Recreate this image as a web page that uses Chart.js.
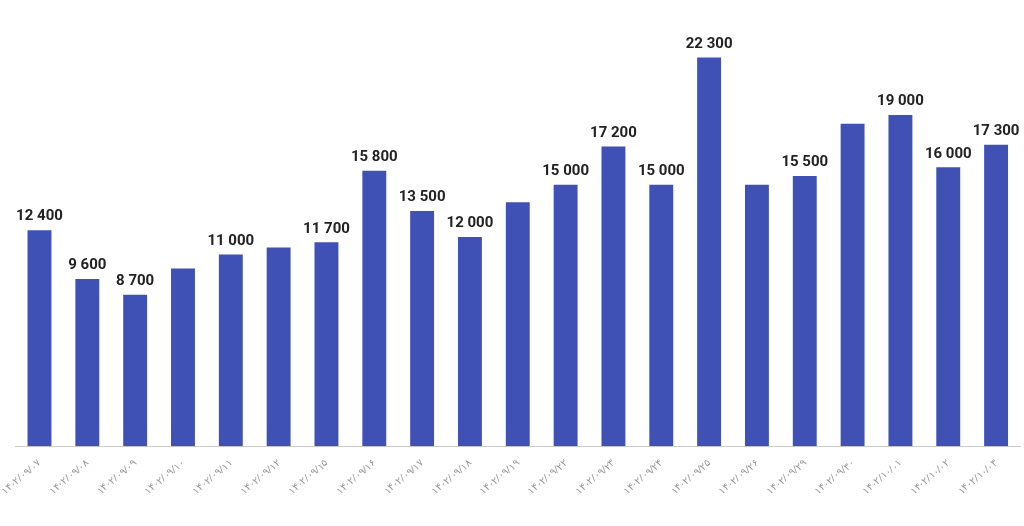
<!DOCTYPE html>
<html><head><meta charset="utf-8">
<script src="https://cdn.jsdelivr.net/npm/chart.js@4"></script>
<style>html,body{margin:0;background:#fff}#wrap{width:1024px;height:526px}</style>
</head><body><div id="wrap"><canvas id="c"></canvas></div>
<script>
const labels = ["۱۴۰۲/۰۹/۰۷","۱۴۰۲/۰۹/۰۸","۱۴۰۲/۰۹/۰۹","۱۴۰۲/۰۹/۱۰","۱۴۰۲/۰۹/۱۱","۱۴۰۲/۰۹/۱۲","۱۴۰۲/۰۹/۱۵","۱۴۰۲/۰۹/۱۶","۱۴۰۲/۰۹/۱۷","۱۴۰۲/۰۹/۱۸","۱۴۰۲/۰۹/۱۹","۱۴۰۲/۰۹/۲۲","۱۴۰۲/۰۹/۲۳","۱۴۰۲/۰۹/۲۴","۱۴۰۲/۰۹/۲۵","۱۴۰۲/۰۹/۲۶","۱۴۰۲/۰۹/۲۹","۱۴۰۲/۰۹/۳۰","۱۴۰۲/۱۰/۰۱","۱۴۰۲/۱۰/۰۲","۱۴۰۲/۱۰/۰۳"];
const values = [12400,9600,8700,10200,11000,11400,11700,15800,13500,12000,14000,15000,17200,15000,22300,15000,15500,18500,19000,16000,17300];
const shownLabels = [true,true,true,false,true,false,true,true,true,true,false,true,true,true,true,false,true,false,true,true,true];

const fmt = v => String(v).replace(/\B(?=(\d{3})+(?!\d))/g, " ");
const valueLabels = {
  id: 'valueLabels',
  afterDatasetsDraw(chart) {
    const ctx = chart.ctx;
    ctx.save();
    ctx.font = 'bold 15px Roboto';
    ctx.fillStyle = '#222';
    ctx.textAlign = 'center';
    ctx.textBaseline = 'bottom';
    chart.getDatasetMeta(0).data.forEach((bar, i) => {
      if (shownLabels[i]) ctx.fillText(fmt(values[i]), bar.x, bar.y - 6);
    });
    ctx.restore();
  }
};

new Chart(document.getElementById('c'), {
  type: 'bar',
  data: { labels: labels, datasets: [{ data: values, backgroundColor: '#3f51b5', barPercentage: 0.5, categoryPercentage: 1 }] },
  options: {
    responsive: true, maintainAspectRatio: false, animation: false,
    layout: { padding: { left: 6, right: 4, top: 0, bottom: 26 } },
    plugins: { legend: { display: false }, tooltip: { enabled: false } },
    scales: {
      y: { display: false, min: 0, max: 25600 },
      x: {
        grid: { display: false },
        border: { color: '#ccc' },
        ticks: { color: '#999', font: { size: 10, family: 'Noto Sans' }, maxRotation: 40, minRotation: 40, autoSkip: false }
      }
    }
  },
  plugins: [valueLabels]
});
</script></body></html>
